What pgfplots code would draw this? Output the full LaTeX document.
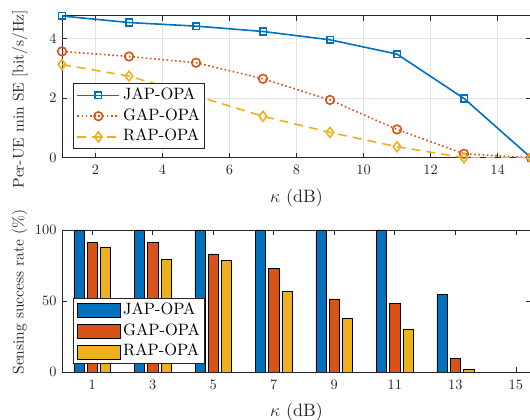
\RequirePackage{fix-cm}
\documentclass[border=0pt]{standalone}
\usepackage{fontspec}
\setmainfont{lmroman10-regular.otf}[BoldFont=lmroman10-bold.otf, ItalicFont=lmroman10-italic.otf]
\usepackage{pgfplots}
\pgfplotsset{compat=1.18}
\definecolor{mblue}{rgb}{0,0.447,0.741}
\definecolor{morange}{rgb}{0.85,0.325,0.098}
\definecolor{myellow}{rgb}{0.929,0.694,0.125}
\definecolor{axgray}{rgb}{0.15,0.15,0.15}
\pgfplotsset{
 common/.style={
  scale only axis, width=469bp, height=142bp, anchor=south west,
  axis line style={axgray, line width=0.7bp},
  every tick/.style={axgray, line width=0.7bp},
  major tick length=5bp,
  tick align=inside,
  ticklabel style={font=\fontsize{14.4}{17}\selectfont, text=axgray},
  xticklabel style={yshift=-4bp},
  yticklabel style={xshift=-2bp},
  /pgf/number format/assume math mode=true,
  label style={font=\fontsize{15.5}{18}\selectfont, text=axgray},
  xlabel style={at={(axis description cs:0.5,0)}, anchor=center, yshift=-40bp,
    font=\fontsize{18}{21}\selectfont},
  legend style={font=\fontsize{16.5}{19}\selectfont, draw=axgray, line width=0.7bp,
    fill=white, anchor=south west, inner sep=3.2bp, row sep=3.8bp, column sep=2bp,
    nodes={inner sep=1bp, text height=11.5bp, text depth=3.5bp},
    cells={anchor=west}},
  legend cell align=left,
 },
 lineleg/.style={legend image code/.code={\draw[mark repeat=2,mark phase=2,##1] plot coordinates {(0bp,0bp) (21bp,0bp) (42bp,0bp)};}},
 barleg/.style={legend image code/.code={\draw[##1, bar width=0, bar shift=0] (0bp,-7bp) rectangle (43bp,7bp);}},
}
\begin{document}
\begin{tikzpicture}
\useasboundingbox (0bp,0bp) rectangle (530bp,420bp);
\clip (0bp,0bp) rectangle (530bp,420bp);
% ---------- top axis ----------
\begin{axis}[common, at={(62bp,262.3bp)},
  xmin=1, xmax=15, ymin=0, ymax=4.77,
  xtick={2,4,...,14}, ytick={0,2,4},
  grid=major, grid style={gray!22, line width=0.6bp},
  xlabel={$\kappa$ (dB)}, ylabel={Per-UE min SE [bit/s/Hz]},
  ylabel style={at={(axis description cs:-0.090,0.413)}, anchor=center},
  legend style={at={(0.0235,0.061)}}, lineleg]
\addplot[mblue, line width=1.6bp, mark=square, mark size=3.3bp, mark options={solid}]
 coordinates {(1,4.76) (3,4.54) (5,4.42) (7,4.24) (9,3.96) (11,3.48) (13,1.99) (15,0)};
\addlegendentry{JAP-OPA}
\addplot[morange, line width=1.6bp, dash pattern=on 1.6bp off 2.6bp, mark=o, mark size=4.3bp, mark options={solid}]
 coordinates {(1,3.57) (3,3.40) (5,3.19) (7,2.65) (9,1.94) (11,0.95) (13,0.13) (15,0)};
\addlegendentry{GAP-OPA}
\addplot[myellow, line width=1.6bp, dash pattern=on 9bp off 6bp, mark=diamond, mark size=5bp, mark options={solid}]
 coordinates {(1,3.13) (3,2.74) (5,2.08) (7,1.39) (9,0.85) (11,0.37) (13,0.0) (15,0)};
\addlegendentry{RAP-OPA}
\end{axis}
% ---------- bottom axis ----------
\begin{axis}[common, at={(62bp,48bp)},
  xmin=0, xmax=15.5, ymin=0, ymax=100,
  xtick={1,3,...,15}, ytick={0,50,100},
  xlabel={$\kappa$ (dB)}, ylabel={Sensing success rate (\%)},
  ylabel style={at={(axis description cs:-0.090,0.563)}, anchor=center},
  legend style={at={(0.0235,0.057)}}]
\addplot[ybar, bar width=0.34, bar shift=-0.44, fill=mblue, draw=black, line width=0.6bp, barleg]
 coordinates {(1,100) (3,100) (5,100) (7,100) (9,100) (11,100) (13,54.6) (15,0)};
\addlegendentry{JAP-OPA}
\addplot[ybar, bar width=0.34, bar shift=0, fill=morange, draw=black, line width=0.6bp, barleg]
 coordinates {(1,91.3) (3,91.3) (5,83.2) (7,73.0) (9,51.5) (11,48.2) (13,9.5) (15,0)};
\addlegendentry{GAP-OPA}
\addplot[ybar, bar width=0.34, bar shift=0.44, fill=myellow, draw=black, line width=0.6bp, barleg]
 coordinates {(1,87.7) (3,79.4) (5,78.5) (7,56.5) (9,37.8) (11,30.3) (13,1.7) (15,0)};
\addlegendentry{RAP-OPA}
\end{axis}
\end{tikzpicture}
\end{document}
